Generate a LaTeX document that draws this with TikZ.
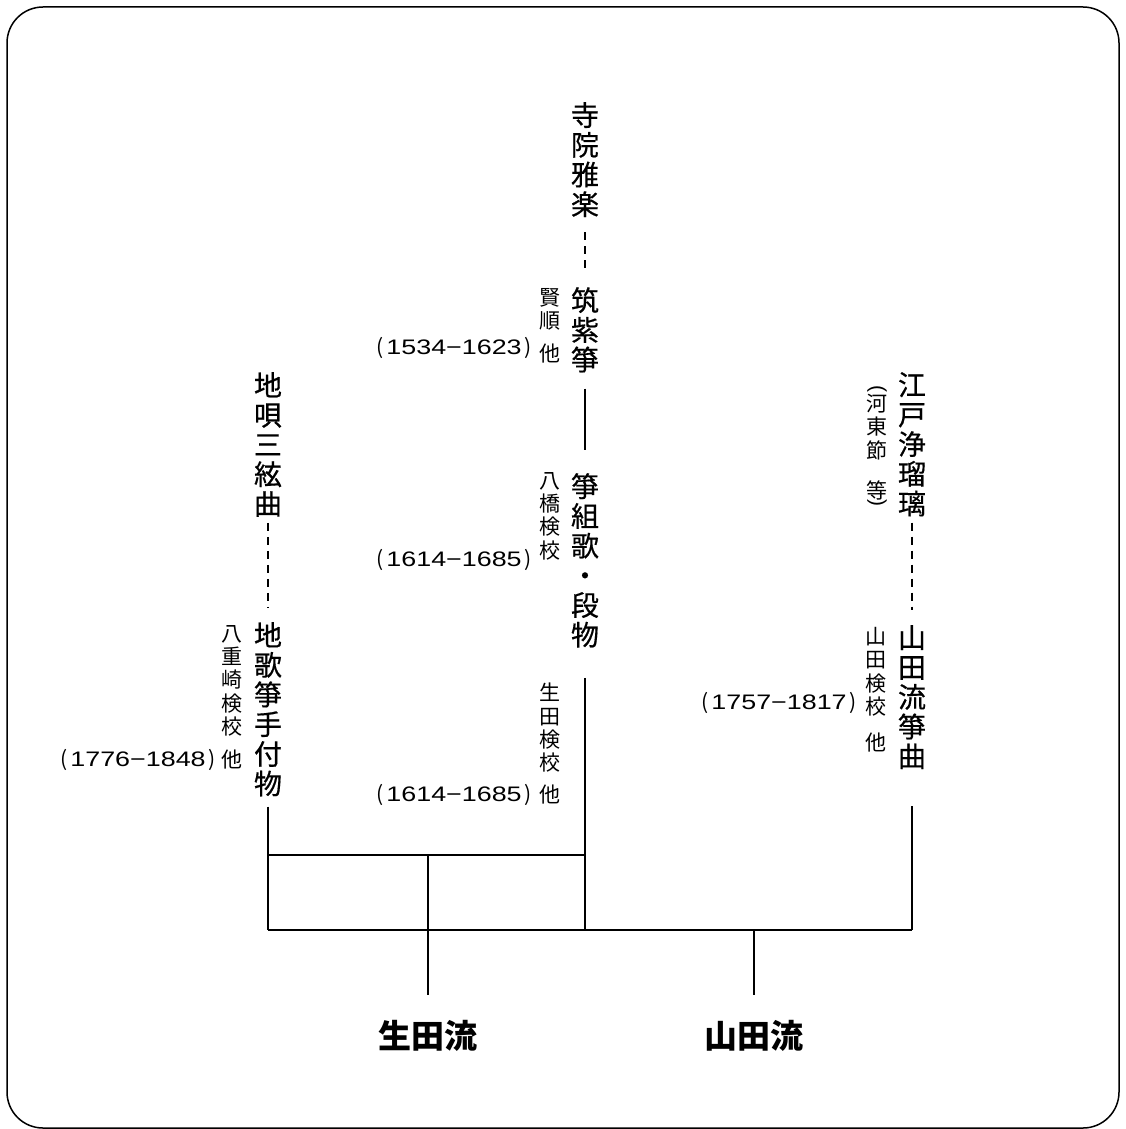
\documentclass[tikz,border=0pt]{standalone}
\usepackage{fontspec}
\setmainfont{Noto Sans CJK JP}
\newfontfamily\bigfont{Noto Sans CJK JP}[FakeBold=0.5]
\newfontfamily\numfont{Liberation Sans}[FakeStretch=1.28]
\newfontfamily\parfont{Liberation Sans}
\newcommand\yrs[2]{(\kern3pt{\numfont #1−#2}\kern3pt)}
\begin{document}
\begin{tikzpicture}[x=1pt,y=-1pt,
  big/.style={font=\bigfont\fontsize{28}{29.7}\selectfont, align=center, inner sep=0pt, anchor=north},
  small/.style={font=\fontsize{21}{23.3}\selectfont, align=center, inner sep=0pt, anchor=north},
  tail/.style={font=\fontsize{21}{23.3}\selectfont, inner sep=0pt, anchor=center},
  yr/.style={font=\fontsize{21}{24}\selectfont, inner sep=0pt, anchor=east},
  vpar/.style={font=\parfont\fontsize{21}{24}\selectfont, inner sep=0pt, anchor=center, rotate=-90},
  school/.style={font=\fontsize{33}{36}\selectfont\bfseries, inner sep=0pt, anchor=center},
  ln/.style={line width=2.8pt},
  dl/.style={line width=2.8pt, dash pattern=on 8pt off 6pt}]
\useasboundingbox (0,0) rectangle (1125,1129);
\draw[line width=1.5pt, rounded corners=36pt] (7,7) rectangle (1119,1128);

% middle column
\node[big] (jiin) at (585,102) {寺\\院\\雅\\楽};
\node[big] (chiku) at (585,287) {筑\\紫\\箏};
\node[big] (kumi) at (585,473) {箏\\組\\歌\\・\\段\\物};
\node[small] (kenjun) at (550,288) {賢\\順};
\node[tail] (kenjunH) at (550,354) {他};
\node[yr] (kenjunY) at (532,348) {\yrs{1534}{1623}};
\node[small] (yatsu) at (550,472) {八\\橋\\検\\校};
\node[yr] (yatsuY) at (532,560) {\yrs{1614}{1685}};
\node[small] (ikuK) at (550,683) {生\\田\\検\\校};
\node[tail] (ikuKH) at (550,795) {他};
\node[yr] (ikuKY) at (532,795) {\yrs{1614}{1685}};

% left column
\node[big] (jiuta) at (268,372) {地\\唄\\三\\絃\\曲};
\node[big] (jiuta2) at (268,622) {地\\歌\\箏\\手\\付\\物};
\node[small] (yaeza) at (232,625) {八\\重\\崎\\検\\校};
\node[tail] (yaezaH) at (232,760) {他};
\node[yr] (yaezaY) at (216,760) {\yrs{1776}{1848}};

% right column
\node[big] (edo) at (912,372) {江\\戸\\浄\\瑠\\璃};
\node[big] (yamaK) at (912,625) {山\\田\\流\\箏\\曲};
\node[vpar] (katoL) at (877,389) {(};
\node[small] (kato) at (877,394) {河\\東\\節\\[17pt]等};
\node[vpar] (katoR) at (877,503) {)};
\node[small] (yamaP) at (876,627) {山\\田\\検\\校};
\node[tail] (yamaPH) at (876,743) {他};
\node[yr] (yamaPY) at (857,703) {\yrs{1757}{1817}};

% schools
\node[school] (ikuta) at (428,1036) {生田流};
\node[school] (yamada) at (754,1036) {山田流};

% connectors
\coordinate (Lb) at (268,930);
\coordinate (Mb) at (585,930);
\coordinate (Rb) at (912,930);
\coordinate (Lm) at (268,855);
\coordinate (Mm) at (585,855);
\coordinate (Im) at (428,855);
\coordinate (Yb) at (754,930);

\draw[dl, shorten <=15pt, shorten >=19pt] (jiin) -- (chiku);
\draw[ln, shorten <=16pt, shorten >=23pt] (chiku) -- (kumi);
\draw[ln, shorten <=30pt] (kumi) -- (Mb);
\draw[dl, shorten <=6pt, shorten >=15pt] (jiuta) -- (jiuta2);
\draw[ln, shorten <=10pt] (jiuta2) -- (Lb);
\draw[dl, shorten <=6pt, shorten >=15pt] (edo) -- (yamaK);
\draw[ln, shorten <=37pt] (yamaK) -- (Rb);
\draw[ln] (Lm) -- (Mm);
\draw[ln] (Lb) -- (Rb);
\draw[ln, shorten >=25pt] (Im) -- (ikuta);
\draw[ln, shorten >=25pt] (Yb) -- (yamada);
\end{tikzpicture}
\end{document}
